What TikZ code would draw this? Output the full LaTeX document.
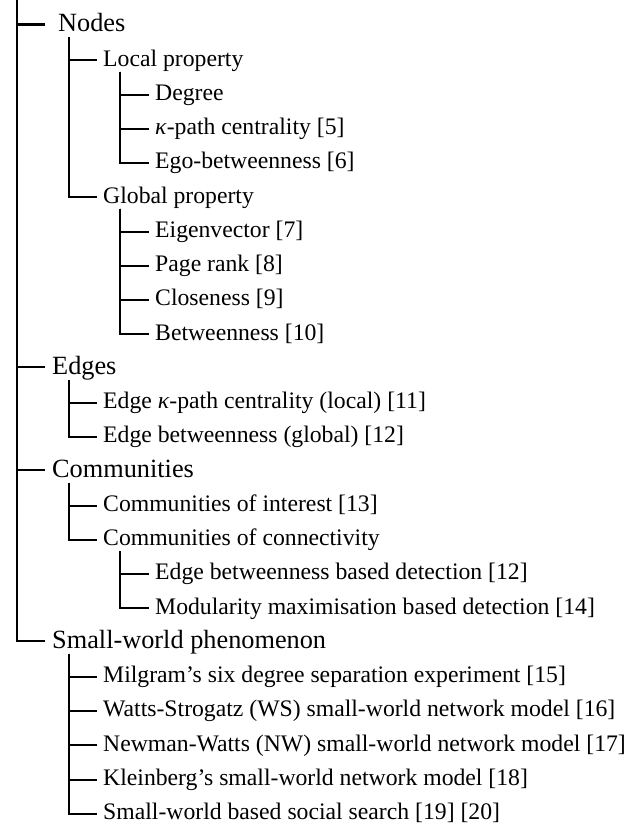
\documentclass[tikz,border=0pt]{standalone}
\usepackage{fontspec}
\setmainfont{Liberation Serif}
\begin{document}
\begin{tikzpicture}[x=1pt,y=1pt,
  toplabel/.style={anchor=base west, inner sep=0pt, font=\fontsize{26.3}{30}\selectfont},
  sublabel/.style={anchor=base west, inner sep=0pt, font=\fontsize{23.7}{28}\selectfont},
  branch/.style={line width=2.2pt, black, line join=miter},
]
\useasboundingbox (0,0) rectangle (631,-825);

% root of the tree (above the visible area)
\coordinate (root) at (17,8);

% first level
\node[toplabel] (nodes) at (52,-31.8) {\hspace*{6pt}Nodes};
\node[toplabel] (edges) at (52,-374.3) {Edges};
\node[toplabel] (comm)  at (52,-477.05) {Communities};
\node[toplabel] (sw)    at (52,-648.3) {Small-world phenomenon};

% nodes
\node[sublabel] (local)  at (103,-66.05) {Local property};
\node[sublabel] (degree) at (155,-100.3) {Degree};
\node[sublabel] (kpath)  at (155,-134.55) {\textit{κ}-path centrality [5]};
\node[sublabel] (ego)    at (155,-168.8) {Ego-betweenness [6]};
\node[sublabel] (global) at (103,-203.05) {Global property};
\node[sublabel] (eigen)  at (155,-237.3) {Eigenvector [7]};
\node[sublabel] (pager)  at (155,-271.55) {Page rank [8]};
\node[sublabel] (close)  at (155,-305.8) {Closeness [9]};
\node[sublabel] (betw)   at (155,-340.05) {Betweenness [10]};

% edges
\node[sublabel] (ekpath) at (103,-408.55) {Edge \textit{κ}-path centrality (local) [11]};
\node[sublabel] (ebetw)  at (103,-442.8) {Edge betweenness (global) [12]};

% communities
\node[sublabel] (cint)   at (103,-511.3) {Communities of interest [13]};
\node[sublabel] (cconn)  at (103,-545.55) {Communities of connectivity};
\node[sublabel] (ebdet)  at (155,-579.8) {Edge betweenness based detection [12]};
\node[sublabel] (moddet) at (155,-614.05) {Modularity maximisation based detection [14]};

% small world
\node[sublabel] (milgram) at (103,-682.55) {Milgram's six degree separation experiment [15]};
\node[sublabel] (ws)      at (103,-716.8) {Watts-Strogatz (WS) small-world network model [16]};
\node[sublabel] (nw)      at (103,-751.05) {Newman-Watts (NW) small-world network model [17]};
\node[sublabel] (klein)   at (103,-785.3) {Kleinberg's small-world network model [18]};
\node[sublabel] (search)  at (103,-819.55) {Small-world based social search [19] [20]};

% connectors from the root
\foreach \c in {nodes,edges,comm,sw}
  \draw[branch] (root) |- ([xshift=-7pt,yshift=7.4pt]\c.base west);

% connectors from a parent label to its children
\foreach \p/\c in {nodes/local,nodes/global,
                   local/degree,local/kpath,local/ego,
                   global/eigen,global/pager,global/close,global/betw,
                   edges/ekpath,edges/ebetw,
                   comm/cint,comm/cconn,
                   cconn/ebdet,cconn/moddet,
                   sw/milgram,sw/ws,sw/nw,sw/klein,sw/search}
  \draw[branch] ([xshift=17pt,yshift=-5.5pt]\p.base west) |- ([xshift=-6.5pt,yshift=5.7pt]\c.base west);
\end{tikzpicture}
\end{document}
